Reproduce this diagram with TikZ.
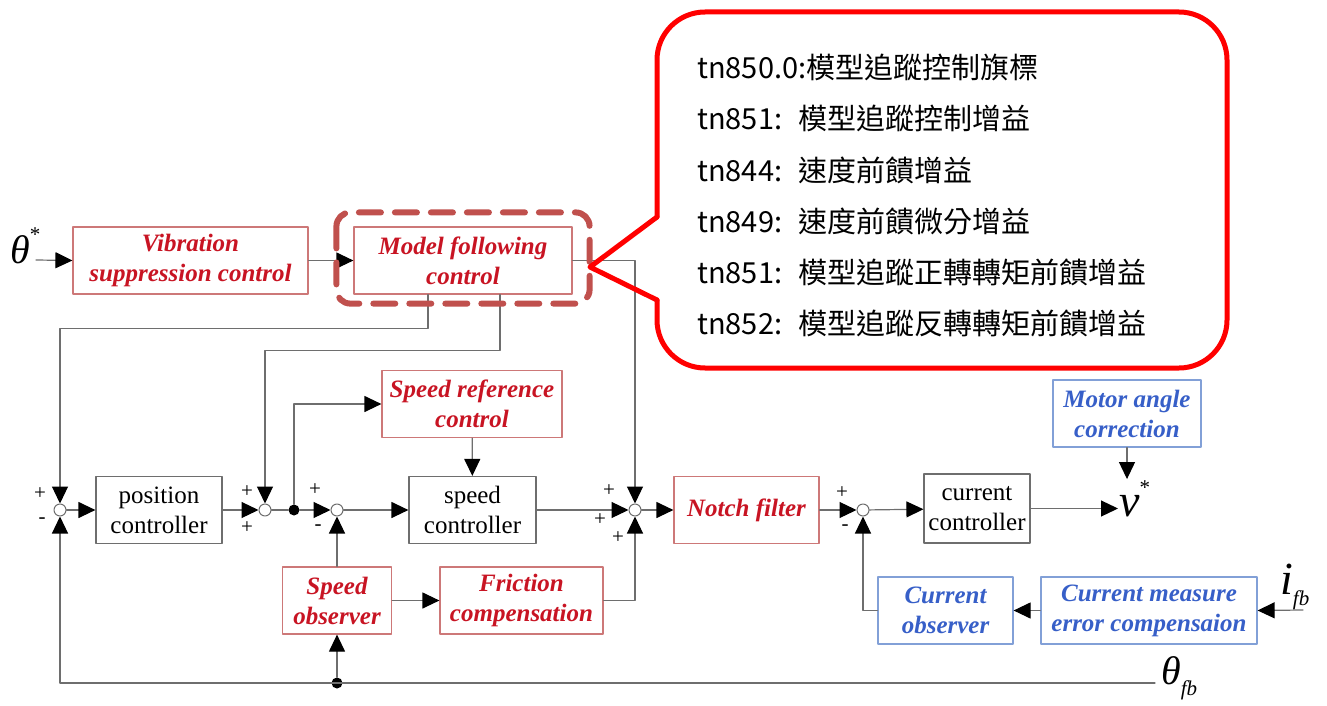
\documentclass[tikz,border=0pt]{standalone}
\usepackage{fontspec}
\setmainfont{Liberation Serif}
\newfontfamily\cjk{Noto Sans CJK TC}
\usetikzlibrary{arrows.meta}
\definecolor{boxred}{RGB}{205,120,120}
\definecolor{txtred}{RGB}{200,20,35}
\definecolor{boxblue}{RGB}{130,160,215}
\definecolor{txtblue}{RGB}{55,95,200}
\definecolor{wiregray}{RGB}{110,110,110}
\definecolor{dashred}{RGB}{192,80,77}
\tikzset{
  blk/.style={draw=wiregray, line width=1.2pt, inner sep=0pt, minimum height=67pt, align=center, font=\fontsize{25}{30}\selectfont},
  redblk/.style={blk, draw=boxred, text=txtred, font=\fontsize{25}{30}\selectfont\bfseries\itshape},
  blueblk/.style={blk, draw=boxblue, text=txtblue, font=\fontsize{25}{30}\selectfont\bfseries\itshape},
  sum/.style={circle, draw=wiregray, fill=white, line width=1pt, minimum size=12pt, inner sep=0pt},
  junc/.style={circle, fill=black, minimum size=11pt, inner sep=0pt},
  sgn/.style={font=\fontsize{21}{21}\selectfont, inner sep=0pt},
  ln/.style={draw=wiregray, line width=1.2pt},
  arr/.style={ln, -{Triangle[length=17pt,width=16pt,color=black]}},
  sym/.style={inner sep=1pt, anchor=base west, font=\fontsize{40}{40}\selectfont\itshape},
}
\newcommand{\upstar}{\raisebox{22pt}{\fontsize{21}{21}\selectfont\upshape *}}
\newcommand{\fbsub}{\raisebox{-11pt}{\fontsize{21}{21}\selectfont\itshape fb}}
\begin{document}
\begin{tikzpicture}[x=1pt, y=-1pt, line cap=round, line join=round]
  \useasboundingbox (0,0) rectangle (1327,706);
  \node[redblk, minimum width=235pt] (vib) at (190.5,260.5) {Vibration\\suppression control};
  \node[redblk, minimum width=218pt] (mfc) at (463,260.5) {Model following\\control};
  \node[redblk, minimum width=180pt] (sref) at (472,404) {Speed reference\\control};
  \node[blk, minimum width=126pt] (pos) at (159,510) {position\\controller};
  \node[blk, minimum width=127pt] (spd) at (472.5,510) {speed\\controller};
  \node[redblk, minimum width=145pt] (notch) at (746.5,510) {Notch filter};
  \node[blk, minimum width=106pt, minimum height=69pt] (cur) at (977,508.5) {current\\controller};
  \node[blueblk, minimum width=148pt] (mac) at (1127,413.5) {Motor angle\\correction};
  \node[redblk, minimum width=109pt] (sobs) at (337,600.5) {Speed\\observer};
  \node[redblk, minimum width=163pt] (fric) at (521.5,600.5) {Friction\\compensation};
  \node[blueblk, minimum width=135pt] (cobs) at (945.5,610.5) {Current\\observer};
  \node[blueblk, minimum width=216pt] (cme) at (1149,610.5) {Current measure\\error compensaion};
  \node[sum] (s1) at (60,510) {};
  \node[sum] (s2) at (265,510) {};
  \node[sum] (s5) at (337,510) {};
  \node[sum] (s3) at (635,510) {};
  \node[sum] (s4) at (863,510) {};
  \node[junc] (d1) at (294,510) {};
  \node[junc] (d2) at (337,683) {};
  \node[sym] (thr) at (9,263) {θ\upstar};
  \node[sym, font=\fontsize{46}{46}\selectfont\itshape] (vst) at (1118,516) {v\upstar};
  \node[sym, font=\fontsize{46}{46}\selectfont\itshape] (ifb) at (1279,594) {i\fbsub};
  \node[sym] (thfb) at (1160,684) {θ\fbsub};
  \coordinate (tin) at (36,260);
  \coordinate (iin) at (1303,610);
  \coordinate (fbin) at (1155,683);
  \node[sgn] at (40,494) {+};
  \node[sgn] at (42,521) {-};
  \node[sgn] at (247,492) {+};
  \node[sgn] at (247,528) {+};
  \node[sgn] at (315,490) {+};
  \node[sgn] at (318,528) {-};
  \node[sgn] at (609,491) {+};
  \node[sgn] at (600,520) {+};
  \node[sgn] at (618,538) {+};
  \node[sgn] at (842,493) {+};
  \node[sgn] at (845,528) {-};
  \draw[arr] (tin) -- (vib.west);
  \draw[arr] (vib) -- (mfc);
  \draw[arr] (mfc.east) -| (s3.north);
  \draw[arr] ([xshift=-35pt]mfc.south) -- ++(0,34) -| (s1.north);
  \draw[arr] ([xshift=37pt]mfc.south) -- ++(0,56) -| (s2.north);
  \draw[arr] (s1) -- (pos);
  \draw[arr] (pos) -- (s2);
  \draw[ln] (s2) -- (d1);
  \draw[arr] (d1) -- (s5);
  \draw[arr] (d1) |- (sref.west);
  \draw[arr] (s5) -- (spd);
  \draw[arr] (sref) -- (spd);
  \draw[arr] (spd) -- (s3);
  \draw[arr] (fric.east) -| (s3.south);
  \draw[arr] (s3) -- (notch);
  \draw[arr] (notch) -- (s4);
  \draw[arr] (s4) -- (cur);
  \draw[arr] (cur.east) -- (vst.west |- cur.east);
  \draw[arr] (mac.south) -- (mac.south |- vst.north);
  \draw[arr] (sobs.north) -- (s5.south);
  \draw[arr] (sobs) -- (fric);
  \draw[arr] (fbin) -| (s1.south);
  \draw[arr] (d2) -- (sobs.south);
  \draw[arr] (iin) -- (cme.east);
  \draw[arr] (cme) -- (cobs);
  \draw[arr] (cobs.west) -| (s4.south);
  \draw[dashred, line width=6pt, dash pattern=on 22pt off 14pt, rounded corners=14pt]
    ([xshift=-17pt,yshift=14pt]mfc.north west) rectangle ([xshift=17pt,yshift=-9pt]mfc.south east);
  \draw[red, line width=5pt, rounded corners=48pt] (657,217) -- (657,12) -- (1227,12) -- (1227,368) -- (657,368) -- (657,300);
  \draw[red, line width=5pt] (657,300) -- (590,267) -- (657,217);
  \foreach \t [count=\i] in {tn850.0:模型追蹤控制旗標, tn851:\hspace{16pt}模型追蹤控制增益, tn844:\hspace{16pt}速度前饋增益, tn849:\hspace{16pt}速度前饋微分增益, tn851:\hspace{16pt}模型追蹤正轉轉矩前饋增益, tn852:\hspace{16pt}模型追蹤反轉轉矩前饋增益}
    \node[anchor=base west, inner sep=0pt, font=\cjk\fontsize{29}{29}\selectfont] (note\i) at (697,28+51*\i) {\t};
\end{tikzpicture}
\end{document}
